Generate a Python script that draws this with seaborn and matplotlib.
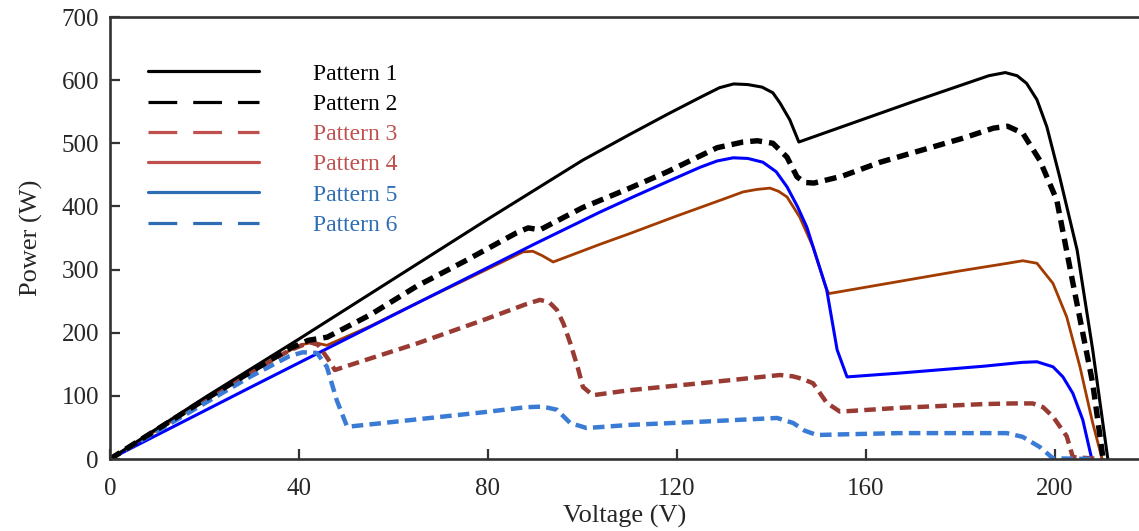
import matplotlib
matplotlib.use("Agg")
import matplotlib.pyplot as plt
from matplotlib.lines import Line2D
import seaborn as sns

# ---------------- data ----------------
labels = ["Pattern 1", "Pattern 2", "Pattern 3", "Pattern 4", "Pattern 5", "Pattern 6"]

p1_v = [0, 20, 40, 60, 80, 100, 110, 118, 125, 129, 132, 135, 138, 140.3, 141.8, 143.9, 145.8,
        170, 186, 189.5, 192, 194, 196.2, 198.3, 201, 204.7, 208, 211.2]
p1_p = [0, 97, 190, 285, 380, 473, 514, 546, 573, 588, 594, 593, 589, 580, 564, 537, 502,
        566, 607, 612, 607, 595, 569, 526, 447, 331, 173, 0]

p2_v = [0, 20, 30, 38, 42, 46, 55, 65, 75, 86, 88.5, 91, 100, 110, 118, 128.5, 134, 137, 140.3,
        143.3, 145.4, 147, 149, 155, 163, 180.5, 187, 190, 193.2, 196.8, 200.4, 203.8, 208, 210.2]
p2_p = [0, 94, 139, 175, 188, 193, 228, 274, 313, 358, 366, 363, 398, 429, 455, 493, 502, 504, 500,
        478, 447, 438, 437, 448, 470, 508, 524, 527, 516, 473, 410, 279, 120, 0]

p3_v = [0, 20, 30, 38, 42.3, 44, 46, 47.6, 55, 65, 79, 88, 91, 93, 94.6, 96, 97.4, 99, 100.1, 102.2,
        110, 125, 141.8, 144.5, 146.5, 148.8, 151.7, 154.5, 167, 185, 191.1, 195.3, 197.5, 199.6,
        202.5, 203.8, 209.8]
p3_p = [0, 92, 138, 172, 185, 181, 160, 141, 159, 183, 220, 245, 252, 248, 236, 214, 184, 145, 114, 101,
        109, 120, 133, 131, 127, 120, 89, 75, 81, 87, 88, 88, 82, 67,
        36, 3, 0]

p4_v = [0, 20, 30, 40, 43, 45.9, 55, 65, 75, 87.4, 89.5, 91.5, 93.8, 103.7, 110, 120, 130, 134, 137,
        139.7, 141.5, 143.3, 146, 148.8, 151.7, 152.2, 163, 180, 190, 193.2, 196.2, 199.6, 202.5,
        205.3, 208, 210]
p4_p = [0, 92, 138, 180, 185, 180, 210, 247, 283, 328, 329, 322, 312, 340, 357, 385, 412, 423, 427,
        429, 424, 415, 383, 336, 268, 262, 276, 298, 310, 314, 310, 278, 225,
        146, 57, 0]

p5_v = [0, 29.6, 60, 90, 103.7, 110.7, 117.9, 124.9, 128.5, 131.9, 135, 138.2, 141, 143.3, 145.5,
        147.5, 151.7, 153.9, 156, 167, 185, 193, 196.2, 199.6, 201.7, 203.8, 205.9, 207.8]
p5_p = [0, 113, 228, 341, 391, 415, 439, 462, 472, 477, 476, 470, 455, 431, 400,
        367, 268, 173, 130, 136, 147, 153, 154, 146, 130, 104, 62, 0]

p6_v = [0, 20, 29.6, 38, 40.8, 43.8, 45.9, 48, 50.2, 57.8, 79, 88, 91.6, 94.6, 97.4, 100.9, 110, 125,
        141.2, 144.6, 147, 149.6, 155, 167, 189.8, 193.2, 196.8, 199.6, 208.5]
p6_p = [0, 88, 130, 163, 169, 168, 146, 93, 51, 57, 74, 82, 83, 78, 57, 49, 54, 59,
        65, 57, 45, 38, 39, 41, 41, 35, 19, 1, 0]

x_ticks = [0, 40, 80, 120, 160, 200]
y_ticks = [0, 100, 200, 300, 400, 500, 600, 700]

# ---------------- styling ----------------
sns.set_style("ticks")
plt.rcParams["font.family"] = ["Liberation Serif", "DejaVu Serif"]
plt.rcParams["lines.dash_capstyle"] = "butt"

fig = plt.figure(figsize=(11.39, 5.31), dpi=100)
ax = fig.add_axes([110 / 1139, 72 / 531, 1029 / 1139, 442 / 531])

series = [
    (p4_v, p4_p, "#A23B00", 2.0, "-"),
    (p5_v, p5_p, "#0000FF", 2.2, "-"),
    (p3_v, p3_p, "#993A33", 3.2, (0, (2.6, 1.4))),
    (p6_v, p6_p, "#3A7BD5", 3.2, (0, (2.6, 1.4))),
    (p1_v, p1_p, "#000000", 2.2, "-"),
    (p2_v, p2_p, "#000000", 3.9, (0, (2.2, 1.3))),
]
for v, p, c, lw, ls in series:
    sns.lineplot(x=v, y=p, ax=ax, color=c, linewidth=lw, linestyle=ls,
                 sort=False, estimator=None, clip_on=True)

ax.set_xlim(0, 217.8)
ax.set_ylim(0, 700)
ax.set_xticks(x_ticks)
ax.set_yticks(y_ticks)
ax.set_xticklabels([str(t) for t in x_ticks])
ax.set_yticklabels([str(t) for t in y_ticks])

ax.set_xlabel("Voltage (V)", fontsize=19, labelpad=3)
ax.set_ylabel("Power (W)", fontsize=19, labelpad=13)

ax.tick_params(direction="in", length=7, width=1.6, color="#333333", labelsize=18)
ax.tick_params(axis="x", pad=14)
ax.tick_params(axis="y", pad=8)

for side in ["left", "bottom", "top"]:
    ax.spines[side].set_color("#333333")
    ax.spines[side].set_linewidth(1.9)
ax.spines["right"].set_visible(False)

leg_colors = ["#000000", "#000000", "#C0504D", "#C0504D", "#2E6DB4", "#2E6DB4"]
leg_styles = ["-", (0, (9, 5)), (0, (9, 5)), "-", "-", (0, (9, 5))]
handles = [Line2D([], [], color=c, lw=2.3, linestyle=s) for c, s in zip(leg_colors, leg_styles)]
ax.legend(handles, labels, loc="upper left",
          bbox_to_anchor=((148 - 110) / 1029, (459 - 63) / 442),
          frameon=False, handlelength=4.7, handletextpad=2.3, labelspacing=0.37,
          borderpad=0, borderaxespad=0, fontsize=17, labelcolor=leg_colors)

fig.savefig("out.png", dpi=100)
